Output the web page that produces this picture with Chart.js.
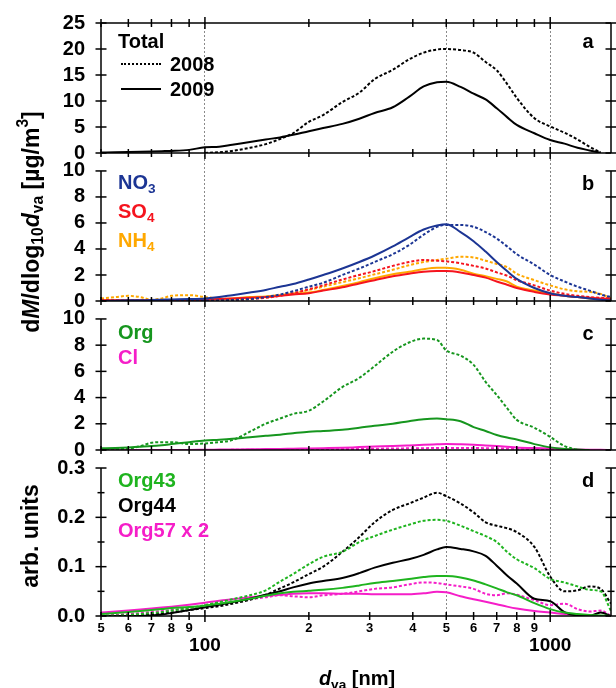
<!DOCTYPE html>
<html>
<head>
<meta charset="utf-8">
<script src="https://cdn.jsdelivr.net/npm/chart.js@4"></script>
<style>
  body { margin: 0; background: #fff; }
  #wrap { position: relative; width: 616px; height: 688px; }
  #c { position: absolute; left: 0; top: 0; }
  .t { position: absolute; font-family: "Liberation Sans", Arial, sans-serif; font-weight: bold; font-size: 20px;
       white-space: nowrap; line-height: 1; transform: translate(0, -50%); }
  .t sub { font-size: 0.68em; vertical-align: -0.3em; line-height: 0; }
  .t sup { font-size: 0.68em; vertical-align: 0.65em; line-height: 0; }
  .smp { position: absolute; width: 40px; height: 0; }
</style>
</head>
<body>
<div id="wrap">
  <canvas id="c" width="616" height="688"></canvas>

  <!-- axis titles -->
  <div class="t" style="left:31px;top:222px;font-size:23px;transform:translate(-50%,-50%) rotate(-90deg)">d<i>M</i>/dlog<sub>10</sub><i>d</i><sub>va</sub> [µg/m<sup>3</sup>]</div>
  <div class="t" style="left:30px;top:536px;font-size:23px;transform:translate(-50%,-50%) rotate(-90deg)">arb. units</div>
  <div class="t" style="left:357px;top:678px;transform:translate(-50%,-50%)"><i>d</i><sub>va</sub> [nm]</div>

  <!-- panel letters -->
  <div class="t" style="left:588px;top:41px;transform:translate(-50%,-50%)">a</div>
  <div class="t" style="left:588px;top:183px;transform:translate(-50%,-50%)">b</div>
  <div class="t" style="left:588px;top:333px;transform:translate(-50%,-50%)">c</div>
  <div class="t" style="left:588px;top:480px;transform:translate(-50%,-50%)">d</div>

  <!-- panel a legend -->
  <div class="t" style="left:118px;top:41px">Total</div>
  <div class="smp" style="left:121px;top:63px;border-top:2px dotted #000"></div>
  <div class="t" style="left:170px;top:64px">2008</div>
  <div class="smp" style="left:121px;top:88px;border-top:2px solid #000"></div>
  <div class="t" style="left:170px;top:89px">2009</div>

  <!-- panel b legend -->
  <div class="t" style="left:118px;top:182px;color:#1c3594">NO<sub>3</sub></div>
  <div class="t" style="left:118px;top:211px;color:#f5141e">SO<sub>4</sub></div>
  <div class="t" style="left:118px;top:240px;color:#ffa800">NH<sub>4</sub></div>

  <!-- panel c legend -->
  <div class="t" style="left:118px;top:332px;color:#16961e">Org</div>
  <div class="t" style="left:118px;top:357px;color:#f51ec8">Cl</div>

  <!-- panel d legend -->
  <div class="t" style="left:118px;top:480px;color:#1fb41f">Org43</div>
  <div class="t" style="left:118px;top:505px;color:#000">Org44</div>
  <div class="t" style="left:118px;top:530px;color:#f51ec8">Org57 x 2</div>
</div>

<script>
// vacuum aerodynamic diameter, nm
const sizes = [50, 55, 60, 65, 70, 75, 80, 90, 100, 110, 120, 135, 150, 165, 180, 200, 220, 250, 280, 310,
               350, 390, 430, 470, 500, 550, 600, 650, 700, 750, 800, 900, 1000, 1100, 1200, 1300, 1400, 1500];

// panel a, total mass
const total2008 = [null, null, null, null, null, null, null, null, 0.0, 0.15, 0.4, 1.0, 1.7, 2.7, 3.8, 6.0, 7.3, 9.8, 11.6, 14.2,
                   16.0, 18.0, 19.3, 19.9, 20.0, 19.8, 19.3, 17.5, 15.9, 13.3, 10.6, 6.7, 5.1, 3.9, 2.6, 1.2, 0.1, null];
const total2009 = [0.1, 0.15, 0.2, 0.25, 0.3, 0.35, 0.4, 0.6, 1.1, 1.2, 1.6, 2.1, 2.6, 3.0, 3.5, 4.2, 4.8, 5.6, 6.6, 7.7,
                   8.8, 10.8, 12.8, 13.6, 13.7, 12.7, 11.4, 10.3, 8.6, 6.9, 5.4, 3.8, 2.5, 1.8, 1.0, 0.5, 0.05, null];

// panel b, inorganics
const no3_2009 = [0.0, 0.02, 0.05, 0.05, 0.08, 0.1, 0.12, 0.15, 0.2, 0.3, 0.45, 0.65, 0.85, 1.1, 1.3, 1.65, 2.0, 2.5, 3.0, 3.5,
                  4.2, 4.9, 5.5, 5.8, 5.9, 5.3, 4.6, 3.8, 3.0, 2.3, 1.7, 1.0, 0.6, 0.4, 0.3, 0.2, 0.1, 0.05];
const no3_2008 = [0.02, 0.02, 0.02, 0.02, 0.02, 0.02, 0.02, 0.02, 0.03, 0.05, 0.08, 0.15, 0.3, 0.5, 0.75, 1.1, 1.4, 2.0, 2.5, 3.0,
                  3.6, 4.3, 5.1, 5.7, 5.85, 5.85, 5.7, 5.3, 4.8, 4.2, 3.6, 2.8, 2.0, 1.5, 1.1, 0.8, 0.5, 0.3];
const so4_2009 = [0.05, 0.05, 0.05, 0.05, 0.05, 0.05, 0.05, 0.05, 0.1, 0.15, 0.2, 0.25, 0.3, 0.4, 0.5, 0.6, 0.8, 1.05, 1.35, 1.6,
                  1.9, 2.1, 2.25, 2.3, 2.3, 2.2, 2.0, 1.8, 1.5, 1.25, 1.0, 0.7, 0.5, 0.4, 0.3, 0.25, 0.2, 0.15];
const so4_2008 = [0.05, 0.05, 0.05, 0.05, 0.05, 0.05, 0.05, 0.05, 0.05, 0.05, 0.08, 0.15, 0.25, 0.4, 0.6, 0.9, 1.2, 1.65, 2.0, 2.3,
                  2.7, 3.0, 3.15, 3.1, 3.05, 2.9, 2.7, 2.5, 2.2, 1.95, 1.6, 1.2, 0.8, 0.55, 0.4, 0.3, 0.25, 0.2];
const nh4_2009 = [0.05, 0.05, 0.05, 0.05, 0.05, 0.05, 0.05, 0.05, 0.1, 0.15, 0.2, 0.3, 0.35, 0.45, 0.55, 0.65, 0.85, 1.15, 1.45, 1.75,
                  2.05, 2.25, 2.45, 2.55, 2.55, 2.4, 2.1, 1.9, 1.7, 1.5, 1.1, 0.8, 0.6, 0.4, 0.3, 0.2, 0.15, 0.1];
const nh4_2008 = [0.2, 0.3, 0.4, 0.3, 0.1, 0.2, 0.4, 0.45, 0.3, 0.2, 0.15, 0.2, 0.3, 0.45, 0.6, 0.85, 1.1, 1.45, 1.75, 2.05,
                  2.4, 2.75, 3.0, 3.15, 3.25, 3.4, 3.35, 3.1, 2.85, 2.6, 2.1, 1.6, 1.2, 0.9, 0.75, 0.7, 0.55, 0.2];

// panel c, organics and chloride
const org_2009 = [0.13, 0.16, 0.2, 0.25, 0.3, 0.37, 0.45, 0.6, 0.72, 0.78, 0.85, 0.98, 1.08, 1.17, 1.28, 1.4, 1.45, 1.55, 1.7, 1.85,
                  2.0, 2.2, 2.35, 2.4, 2.35, 2.2, 1.75, 1.45, 1.15, 0.95, 0.8, 0.45, 0.2, 0.08, 0.03, 0.0, null, null];
const org_2008 = [0.05, 0.08, 0.1, 0.3, 0.55, 0.6, 0.6, 0.45, 0.5, 0.6, 0.75, 1.4, 2.0, 2.4, 2.75, 3.0, 3.7, 4.8, 5.5, 6.4,
                  7.5, 8.2, 8.5, 8.4, 7.6, 7.2, 6.5, 5.2, 4.2, 3.2, 2.3, 1.7, 1.0, 0.3, 0.0, null, null, null];
const cl_2009 = [0, 0, 0, 0, 0, 0, 0, 0, 0.02, 0.03, 0.04, 0.05, 0.07, 0.08, 0.1, 0.12, 0.14, 0.17, 0.22, 0.26,
                 0.3, 0.35, 0.4, 0.43, 0.45, 0.43, 0.4, 0.35, 0.3, 0.25, 0.2, 0.15, 0.12, 0.08, 0.04, 0.02, 0.01, 0.0];
const cl_2008 = [0, 0, 0, 0, 0, 0, 0, 0, 0, 0, 0.01, 0.01, 0.02, 0.03, 0.04, 0.05, 0.06, 0.07, 0.08, 0.1,
                 0.11, 0.13, 0.14, 0.15, 0.16, 0.16, 0.15, 0.14, 0.12, 0.11, 0.1, 0.07, 0.05, 0.03, 0.01, 0, 0, 0];

// panel d, marker fragments (arb. units)
const org43_2009 = [0.004, 0.006, 0.008, 0.01, 0.012, 0.014, 0.016, 0.018, 0.021, 0.025, 0.029, 0.035, 0.041, 0.046, 0.049, 0.051, 0.053, 0.057, 0.062, 0.067,
                    0.071, 0.075, 0.079, 0.081, 0.081, 0.078, 0.072, 0.064, 0.056, 0.048, 0.042, 0.026, 0.014, 0.007, 0.004, 0.002, 0.001, 0.0];
const org43_2008 = [0.0, 0.001, 0.002, 0.004, 0.006, 0.008, 0.011, 0.016, 0.022, 0.028, 0.034, 0.042, 0.052, 0.07, 0.085, 0.105, 0.12, 0.13, 0.15, 0.162,
                    0.175, 0.185, 0.193, 0.195, 0.193, 0.183, 0.172, 0.162, 0.15, 0.13, 0.115, 0.097, 0.075, 0.068, 0.06, 0.053, 0.05, 0.01];
const org44_2009 = [0, 0, 0, 0, 0.001, 0.003, 0.006, 0.012, 0.018, 0.023, 0.028, 0.035, 0.043, 0.05, 0.058, 0.066, 0.071, 0.077, 0.087, 0.098,
                    0.108, 0.115, 0.124, 0.135, 0.14, 0.136, 0.131, 0.122, 0.102, 0.082, 0.066, 0.035, 0.03, 0.008, 0.001, 0, 0.007, 0];
const org44_2008 = [0, 0, 0.001, 0.002, 0.003, 0.005, 0.007, 0.012, 0.016, 0.02, 0.025, 0.033, 0.043, 0.056, 0.068, 0.085, 0.1, 0.13, 0.16, 0.19,
                    0.215, 0.228, 0.24, 0.25, 0.243, 0.228, 0.21, 0.19, 0.183, 0.178, 0.17, 0.14, 0.08, 0.05, 0.052, 0.06, 0.055, 0.025];
const org57_2009 = [0.007, 0.009, 0.011, 0.013, 0.015, 0.017, 0.019, 0.023, 0.027, 0.031, 0.034, 0.038, 0.041, 0.043, 0.045, 0.046, 0.046, 0.045, 0.045, 0.044,
                    0.044, 0.044, 0.046, 0.049, 0.048, 0.04, 0.034, 0.029, 0.024, 0.019, 0.015, 0.01, 0.007, 0.004, 0.002, 0.001, 0, 0];
const org57_2008 = [0, 0.002, 0.004, 0.006, 0.008, 0.01, 0.012, 0.016, 0.02, 0.024, 0.028, 0.034, 0.038, 0.042, 0.04, 0.038, 0.042, 0.045, 0.05, 0.055,
                    0.058, 0.064, 0.068, 0.067, 0.064, 0.06, 0.055, 0.045, 0.042, 0.046, 0.043, 0.032, 0.022, 0.025, 0.014, 0.009, 0.011, 0];

// x ticks: small digits between decades, big decade labels
const xTickVals = [50, 60, 70, 80, 90, 100, 200, 300, 400, 500, 600, 700, 800, 900, 1000];
const xTickText = ['5', '6', '7', '8', '9', '100', '2', '3', '4', '5', '6', '7', '8', '9', '1000'];
const xBig = [100, 1000];
const xGridVals = [100, 500, 1000];

const FONT = '"Liberation Sans", Arial, sans-serif';
const NAVY = '#1c3594', RED = '#f5141e', ORANGE = '#ffa800', GREEN = '#16961e', LGREEN = '#1fb41f', MAGENTA = '#f51ec8';

function line(vals, axis, color, dotted) {
    return {
        yAxisID: axis,
        data: sizes.map((s, i) => ({ x: s, y: vals[i] })),
        borderColor: color,
        borderWidth: 2,
        borderDash: dotted ? [3, 2] : [],
        pointRadius: 0,
        cubicInterpolationMode: 'monotone',
        spanGaps: false
    };
}

// axis lines and cross ticks drawn from the scales, with gaps between panels
const frame = {
    id: 'frame',
    afterDraw(chart) {
        const { ctx, chartArea: ca, scales } = chart;
        const xs = scales.x;
        const seg = (x1, y1, x2, y2) => { ctx.beginPath(); ctx.moveTo(x1, y1); ctx.lineTo(x2, y2); ctx.stroke(); };
        ctx.save();
        ctx.strokeStyle = '#000';
        ctx.lineWidth = 1.5;
        ctx.setLineDash([]);
        ['ya', 'yb', 'yc', 'yd'].forEach(id => {
            const s = scales[id];
            const y0 = s.getPixelForValue(0);
            const yTop = s.getPixelForValue(s.ticks[s.ticks.length - 1].value);
            seg(ca.left, y0, ca.left, yTop);
            seg(ca.right, y0, ca.right, yTop);
            s.ticks.forEach(t => {
                const y = s.getPixelForValue(t.value);
                const h = t.label === '' ? 3.5 : 5.5;
                seg(ca.left - h, y, ca.left + h, y);
                seg(ca.right - h, y, ca.right + h, y);
            });
            const hLines = id === 'ya' ? [y0, yTop] : [y0];
            hLines.forEach(y => {
                seg(ca.left, y, ca.right, y);
                xTickVals.forEach(v => {
                    const x = xs.getPixelForValue(v);
                    const h = xBig.includes(v) ? 6 : 4;
                    seg(x, y - h, x, y + h);
                });
            });
        });
        ctx.restore();
    }
};

function yAxis(max, step, weight, hPx, fmt) {
    return {
        type: 'linear', position: 'left', stack: 'panels', stackWeight: hPx, weight: weight,
        min: 0, max: max,
        grid: { display: false },
        border: { display: false },
        ticks: { stepSize: step, includeBounds: false, autoSkip: false, padding: 8, color: '#000',
                 font: { family: FONT, size: 20, weight: 'bold' }, callback: fmt },
        afterFit: s => { s.width = 101; }
    };
}

const ctx = document.getElementById('c');
new Chart(ctx, {
    type: 'line',
    data: {
        datasets: [
            line(total2008, 'ya', '#000', true),
            line(total2009, 'ya', '#000', false),
            line(no3_2008, 'yb', NAVY, true),
            line(no3_2009, 'yb', NAVY, false),
            line(so4_2008, 'yb', RED, true),
            line(so4_2009, 'yb', RED, false),
            line(nh4_2008, 'yb', ORANGE, true),
            line(nh4_2009, 'yb', ORANGE, false),
            line(org_2008, 'yc', GREEN, true),
            line(org_2009, 'yc', GREEN, false),
            line(cl_2008, 'yc', MAGENTA, true),
            line(cl_2009, 'yc', MAGENTA, false),
            line(org43_2008, 'yd', LGREEN, true),
            line(org43_2009, 'yd', LGREEN, false),
            line(org44_2008, 'yd', '#000', true),
            line(org44_2009, 'yd', '#000', false),
            line(org57_2008, 'yd', MAGENTA, true),
            line(org57_2009, 'yd', MAGENTA, false)
        ]
    },
    options: {
        responsive: false,
        animation: false,
        layout: { padding: { top: 23, right: 5, left: 0, bottom: 0 } },
        plugins: { legend: { display: false }, tooltip: { enabled: false } },
        scales: {
            x: {
                type: 'logarithmic', position: 'bottom', min: 50, max: 1500,
                afterBuildTicks: s => { s.ticks = xTickVals.map(v => ({ value: v })); },
                afterFit: s => { s.height = 72; },
                grid: {
                    drawTicks: false, lineWidth: 1,
                    color: c => (c.tick && xGridVals.includes(c.tick.value)) ? '#8a8a8a' : 'rgba(0,0,0,0)'
                },
                border: { display: false, dash: [2, 2] },
                ticks: {
                    autoSkip: false, maxRotation: 0, padding: 6, color: '#000',
                    callback: v => {
                        const t = xTickText[xTickVals.indexOf(v)];
                        return xBig.includes(v) ? ['', t] : t;
                    },
                    font: c => (c.tick && xBig.includes(c.tick.value))
                        ? { family: FONT, size: 19, weight: 'bold', lineHeight: 0.85 }
                        : { family: FONT, size: 13, weight: 'bold', lineHeight: 1 }
                }
            },
            ya: yAxis(25, 5, 4, 130),
            yb: yAxis(11.38, 2, 3, 148),
            yc: yAxis(11.37, 2, 2, 149),
            yd: yAxis(0.3365, 0.05, 1, 166, v => (Math.round(v * 20) % 2 === 0) ? v.toFixed(1) : '')
        }
    },
    plugins: [frame]
});
</script>
</body>
</html>
